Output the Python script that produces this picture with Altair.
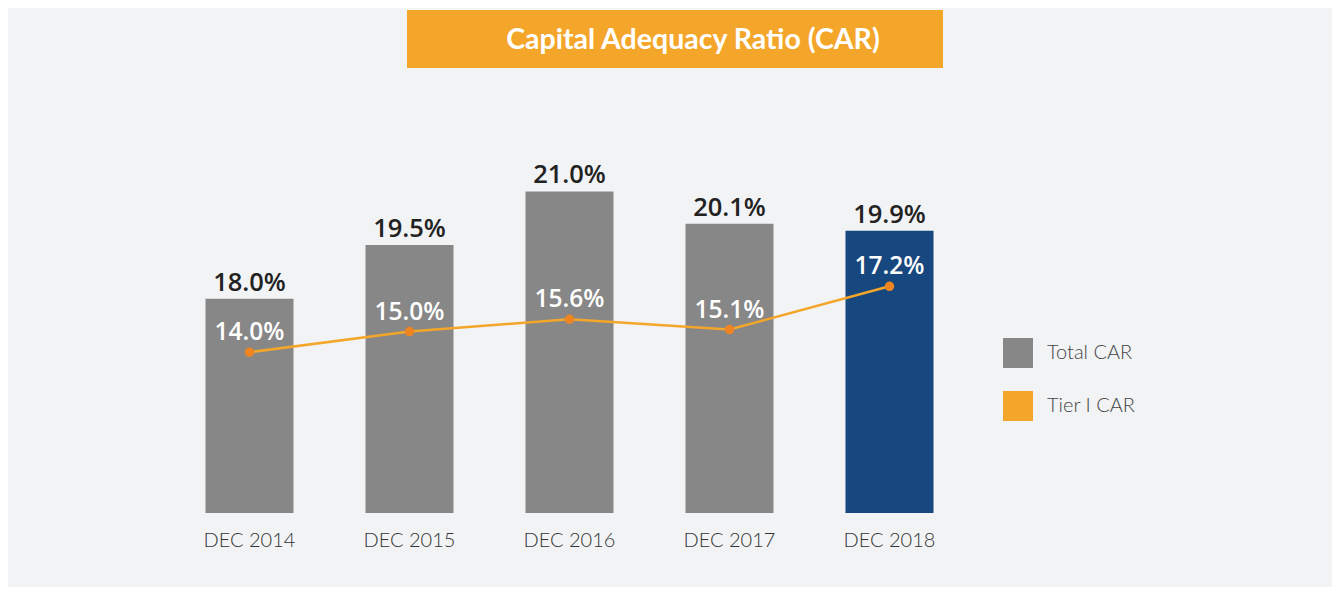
import altair as alt
import pandas as pd

periods = ["DEC 2014", "DEC 2015", "DEC 2016", "DEC 2017", "DEC 2018"]
total_car = [18.0, 19.5, 21.0, 20.1, 19.9]
tier1_car = [14.0, 15.0, 15.6, 15.1, 17.2]
series_names = ["Total CAR", "Tier I CAR"]
highlight_period = "DEC 2018"
title_text = "Capital Adequacy Ratio (CAR)"
bar_base = 12.0

GRAY = "#878787"
BLUE = "#16477e"
ORANGE = "#f4a62a"
DOT = "#ee8422"

df = pd.DataFrame({
    "period": periods,
    "total": total_car,
    "tier1": tier1_car,
})
df["series"] = series_names[0]
df["total_label"] = [f"{v:.1f}%" for v in total_car]
df["tier1_label"] = [f"{v:.1f}%" for v in tier1_car]

x_enc = alt.X(
    "period:N", sort=periods,
    scale=alt.Scale(paddingInner=0.45, paddingOuter=0.225),
    axis=alt.Axis(title=None, domain=False, ticks=False, grid=False, labelAngle=0,
                  labelFont="Lato", labelFontSize=20, labelFontWeight=300,
                  labelColor="#333333", labelPadding=17),
)
y_total = alt.Y("total:Q", scale=alt.Scale(domain=[bar_base, 26.08], zero=False, nice=False), axis=None)
y_tier = alt.Y("tier1:Q", scale=alt.Scale(domain=[6.19, 30.62], zero=False, nice=False), axis=None)

base = alt.Chart(df)

bars = base.mark_bar().encode(
    x=x_enc,
    y=y_total,
    y2=alt.datum(bar_base),
    color=alt.condition(
        f"datum.period == '{highlight_period}'",
        alt.value(BLUE),
        alt.Color("series:N",
                  scale=alt.Scale(domain=series_names, range=[GRAY, ORANGE]),
                  legend=alt.Legend(orient="none", legendX=833.5, legendY=328, title=None,
                                    symbolType="square", symbolSize=900, symbolStrokeWidth=0,
                                    symbolOpacity=1, labelFont="Lato", labelFontSize=20,
                                    labelFontWeight=300,
                                    labelColor="#444444", labelOffset=14, rowPadding=23)),
    ),
)

total_labels = base.mark_text(baseline="alphabetic", dy=-8, font="Open Sans", fontSize=25.5,
                              fontWeight=600, color="#222222").encode(
    x=x_enc, y=y_total, text="total_label:N")

line = base.mark_line(color=ORANGE, strokeWidth=2.5).encode(x=x_enc, y=y_tier)
dots = base.mark_point(filled=True, color=DOT, size=90, opacity=1).encode(x=x_enc, y=y_tier)
tier_labels = base.mark_text(baseline="alphabetic", dy=-12, font="Open Sans", fontSize=24.5,
                             fontWeight=600, color="#ffffff").encode(
    x=x_enc, y=y_tier, text="tier1_label:N")

title_df = pd.DataFrame({"t": [title_text]})
banner = alt.Chart(title_df).mark_rect(color=ORANGE).encode(
    x=alt.value(237.5), x2=alt.value(773.5), y=alt.value(0), y2=alt.value(58))
banner_text = alt.Chart(title_df).mark_text(font="Lato", fontSize=28.5, fontWeight="bold",
                                             color="#ffffff", baseline="middle", align="center").encode(
    x=alt.value(523.5), y=alt.value(30), text="t:N")

chart = alt.layer(bars, total_labels, line, dots, tier_labels, banner, banner_text).resolve_scale(
    y="independent"
).properties(
    width=800, height=503,
    autosize=alt.AutoSizeParams(type="none"),
    padding={"left": 161.5, "top": 2, "right": 362.5, "bottom": 74},
    background="#f2f3f5",
).configure_view(strokeWidth=0)

chart.save("out.html", embed_options={"renderer": "svg", "actions": False})
